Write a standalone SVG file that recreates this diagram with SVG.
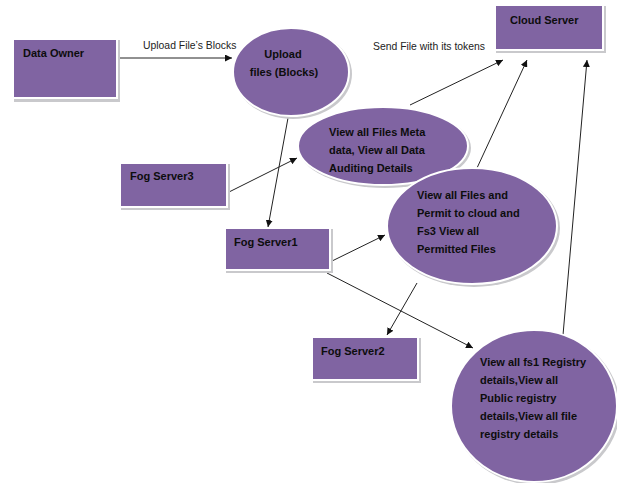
<svg xmlns="http://www.w3.org/2000/svg" width="617" height="483" viewBox="0 0 617 483">
<defs>
<style>
.sh{fill:#c9c9cc;stroke:none}
.nd{fill:#8064a2;stroke:#ffffff;stroke-width:2}
.t{font-family:"Liberation Sans",Arial,sans-serif;font-weight:bold;font-size:11px;fill:#0d0d0d}
.lb{font-family:"Liberation Sans",Arial,sans-serif;font-size:10.4px;fill:#222}
.c{stroke:#222;stroke-width:1;fill:none;marker-end:url(#ah)}
</style>
<marker id="ah" viewBox="0 0 10 10" refX="10" refY="5" markerWidth="7" markerHeight="7" orient="auto" markerUnits="userSpaceOnUse">
<path d="M0,0 L10,5 L0,10 z" fill="#111"/>
</marker>
</defs>
<rect width="617" height="483" fill="#ffffff"/>
<g id="connectors">
<line class="c" x1="120" y1="58" x2="232" y2="58"/>
<line class="c" x1="410" y1="105" x2="503" y2="60"/>
<line class="c" x1="477" y1="168" x2="527" y2="60"/>
<line class="c" x1="563" y1="335" x2="587" y2="60"/>
<line class="c" x1="227" y1="193" x2="297" y2="158"/>
<line class="c" x1="288" y1="118" x2="268" y2="227"/>
<line class="c" x1="330" y1="262" x2="385" y2="235"/>
<line class="c" x1="417" y1="283" x2="387" y2="335"/>
<line class="c" x1="327" y1="273" x2="473" y2="348"/>
</g>
<g id="label-upload">
<text class="lb" x="143" y="49">Upload File’s Blocks</text>
</g>
<g id="label-send">
<text class="lb" x="373" y="50">Send File with its tokens</text>
</g>
<g id="data-owner">
<rect class="sh" x="14" y="40" width="106" height="62"/>
<rect class="nd" x="13" y="39" width="104" height="59"/>
<text class="t" x="23" y="57">Data Owner</text>
</g>
<g id="upload-files">
<ellipse class="sh" cx="293" cy="74" rx="59" ry="45"/>
<ellipse class="nd" cx="291" cy="72" rx="58" ry="44"/>
<text class="t" x="283" y="58" text-anchor="middle">Upload</text>
<text class="t" x="284" y="76" text-anchor="middle">files (Blocks)</text>
</g>
<g id="cloud-server">
<rect class="sh" x="496" y="6" width="110" height="47"/>
<rect class="nd" x="495" y="5" width="108" height="45"/>
<text class="t" x="510" y="24">Cloud Server</text>
</g>
<g id="meta-data">
<ellipse class="sh" cx="385" cy="148" rx="86" ry="40"/>
<ellipse class="nd" cx="383" cy="146" rx="85" ry="39"/>
<text class="t" x="329" y="136">View all Files Meta</text>
<text class="t" x="329" y="154">data, View all Data</text>
<text class="t" x="329" y="172">Auditing Details</text>
</g>
<g id="fog-server3">
<rect class="sh" x="121" y="164" width="109" height="46"/>
<rect class="nd" x="120" y="163" width="107" height="44"/>
<text class="t" x="130" y="180">Fog Server3</text>
</g>
<g id="fog-server1">
<rect class="sh" x="226" y="229" width="107" height="44"/>
<rect class="nd" x="225" y="228" width="105" height="42"/>
<text class="t" x="234" y="246">Fog Server1</text>
</g>
<g id="permit-files">
<ellipse class="sh" cx="474" cy="228" rx="86" ry="59"/>
<ellipse class="nd" cx="472" cy="226" rx="85" ry="58"/>
<text class="t" x="417" y="199">View all Files and</text>
<text class="t" x="417" y="217">Permit to cloud and</text>
<text class="t" x="417" y="235">Fs3 View all</text>
<text class="t" x="417" y="253">Permitted Files</text>
</g>
<g id="fog-server2">
<rect class="sh" x="313" y="338" width="108" height="45"/>
<rect class="nd" x="312" y="337" width="106" height="43"/>
<text class="t" x="321" y="355">Fog Server2</text>
</g>
<g id="registry">
<ellipse class="sh" cx="536" cy="408" rx="84" ry="77"/>
<ellipse class="nd" cx="534" cy="406" rx="83" ry="76"/>
<text class="t" x="480" y="366">View all fs1 Registry</text>
<text class="t" x="480" y="384">details,View all</text>
<text class="t" x="480" y="402">Public registry</text>
<text class="t" x="480" y="420">details,View all file</text>
<text class="t" x="480" y="438">registry details</text>
</g>
</svg>
